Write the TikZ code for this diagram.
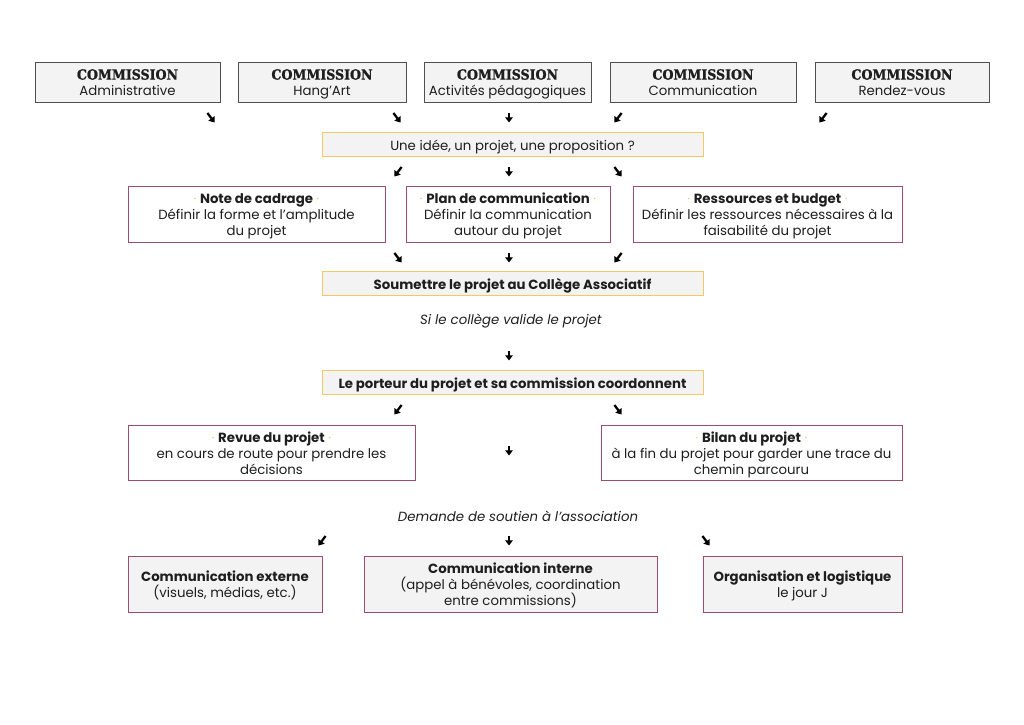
\documentclass[tikz,border=0pt]{standalone}
\usepackage{fontspec}
\setmainfont{Poppins}
\newfontfamily\slab{DejaVu Serif Condensed}[FakeBold=1.2]
\usetikzlibrary{arrows.meta}
\definecolor{boxgray}{HTML}{F3F3F3}
\definecolor{edgegray}{HTML}{505050}
\definecolor{gold}{HTML}{F4C865}
\definecolor{maroon}{HTML}{9C4B72}
\definecolor{dotc}{HTML}{EDCB68}
\definecolor{txt}{HTML}{1E1E1E}
\tikzset{
  base/.style={inner sep=0pt, align=center, font=\fontsize{13.3}{16}\selectfont, text=txt},
  combox/.style={base, draw=edgegray, line width=1pt, fill=boxgray},
  goldbox/.style={base, draw=gold, line width=1pt, fill=boxgray},
  redbox/.style={base, draw=maroon, line width=1pt, fill=white},
  redgray/.style={base, draw=maroon, line width=1pt, fill=boxgray},
  note/.style={base, font=\fontsize{13.3}{16}\selectfont\itshape},
  arr/.style={-{Triangle[length=5.2pt,width=7.5pt]}, line width=2.3pt, black},
}
\newcommand\bx[7]{%
  \pgfmathsetmacro\bxcx{(#3+#5)/2}\pgfmathsetmacro\bxcy{(#4+#6)/2}%
  \pgfmathsetmacro\bxw{#5-#3}\pgfmathsetmacro\bxh{#6-#4}%
  \path (\bxcx,\bxcy) node[#2, minimum width=\bxw pt, minimum height=\bxh pt] (#1) {};
  \node[base, execute at begin node=\strut, execute at end node=\strut] (#1t) at ([yshift=-2.8pt]#1.center) {#7};}
\newcommand\ar[4]{% name, x, y, direction: 0 down, 1 down-right, -1 down-left
  \coordinate (#1a) at ({#2-3.6*#4},{#3-5});
  \coordinate (#1b) at ({#2+3.6*#4},{#3+4.5});
  \draw[arr] (#1a) -- (#1b);}
\newcommand\com[1]{{\fontsize{14}{17}\selectfont\slab\bfseries COMMISSION}\\#1}
\newcommand\ttl[1]{\textcolor{dotc}{·} \textbf{#1} \textcolor{dotc}{·}}
\begin{document}
\begin{tikzpicture}[x=1pt,y=-1pt]
\useasboundingbox (0,0) rectangle (1024,724);
\fill[white] (0,0) rectangle (1024,724);
% commissions
\bx{c1}{combox}{35}{62}{220}{102}{\com{Administrative}}
\bx{c2}{combox}{238}{62}{406}{102}{\com{Hang'Art}}
\bx{c3}{combox}{424}{62}{591}{102}{\com{Activités pédagogiques}}
\bx{c4}{combox}{610}{62}{796}{102}{\com{Communication}}
\bx{c5}{combox}{815}{62}{989}{102}{\com{Rendez-vous}}
\ar{r1a}{211}{118}{1}
\ar{r1b}{397}{118}{1}
\ar{r1c}{509}{118}{0}
\ar{r1d}{618}{118}{-1}
\ar{r1e}{823}{118}{-1}
\bx{idee}{goldbox}{322}{132}{703}{156}{Une idée, un projet, une proposition ?}
\ar{r2a}{398}{172}{-1}
\ar{r2b}{509}{172}{0}
\ar{r2c}{618}{172}{1}
\bx{note}{redbox}{128}{186}{385}{242}{\ttl{Note de cadrage}\\Définir la forme et l'amplitude\\du projet}
\bx{plan}{redbox}{406}{186}{610}{242}{\ttl{Plan de communication}\\Définir la communication\\autour du projet}
\bx{res}{redbox}{633}{186}{902}{242}{\ttl{Ressources et budget}\\Définir les ressources nécessaires à la\\faisabilité du projet}
\ar{r3a}{398}{258}{1}
\ar{r3b}{509}{258}{0}
\ar{r3c}{618}{258}{-1}
\bx{soum}{goldbox}{322}{271}{703}{295}{\textbf{Soumettre le projet au Collège Associatif}}
\node[note] (si) at (511,321) {Si le collège valide le projet};
\ar{r4}{509}{356}{0}
\bx{port}{goldbox}{322}{370}{703}{394}{\textbf{Le porteur du projet et sa commission coordonnent}}
\ar{r5a}{398}{410}{-1}
\ar{r5b}{618}{410}{1}
\bx{rev}{redbox}{128}{425}{415}{480}{\ttl{Revue du projet}\\en cours de route pour prendre les\\décisions}
\bx{bil}{redbox}{601}{425}{902}{480}{\ttl{Bilan du projet}\\à la fin du projet pour garder une trace du\\chemin parcouru}
\ar{r6}{509}{451}{0}
\node[note] (dem) at (518,516) {Demande de soutien à l'association};
\ar{r7a}{322}{541}{-1}
\ar{r7b}{509}{541}{0}
\ar{r7c}{706}{541}{1}
\bx{ext}{redgray}{128}{556}{322}{612}{\textbf{Communication externe}\\(visuels, médias, etc.)}
\bx{int}{redgray}{364}{556}{657}{612}{\textbf{Communication interne}\\(appel à bénévoles, coordination\\entre commissions)}
\bx{org}{redgray}{703}{556}{902}{612}{\textbf{Organisation et logistique}\\le jour J}
\end{tikzpicture}
\end{document}
